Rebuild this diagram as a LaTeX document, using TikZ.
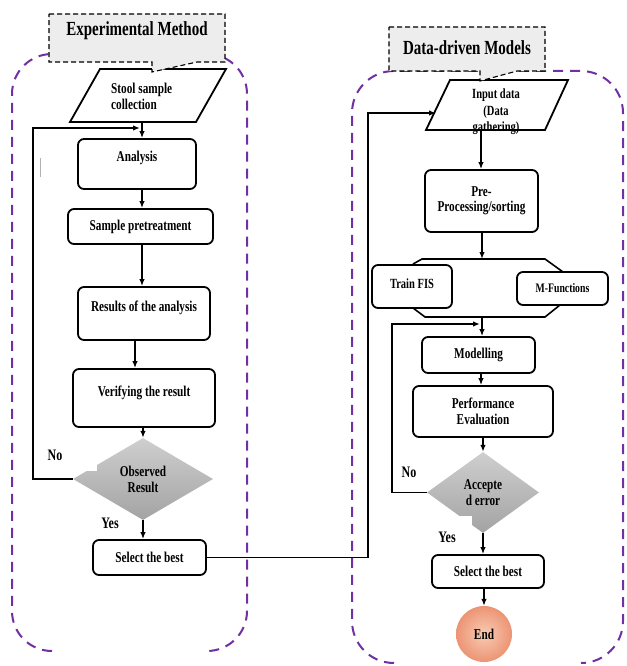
\documentclass[tikz,border=0pt]{standalone}
\usepackage{fontspec}
\setmainfont{Liberation Serif}[FakeStretch=0.75]
\usetikzlibrary{shapes.geometric,arrows.meta}
\definecolor{purp}{HTML}{7030A0}
\definecolor{callgray}{HTML}{EDEDED}
\definecolor{endin}{HTML}{F9CBB3}
\definecolor{endout}{HTML}{EC9474}
\newcommand\upby[2]{\raisebox{#1}[\height][\depth]{#2}}
\begin{document}
\begin{tikzpicture}[x=1pt,y=-1pt,
  every node/.style={font=\bfseries\fontsize{15}{16}\selectfont},
  box/.style={draw, line width=1.8pt, rounded corners=6pt, fill=white, inner sep=0pt, align=center},
  para/.style={draw, line width=1.8pt, fill=white},
  arr/.style={line width=1.5pt, -{Latex[length=7pt,width=5.5pt]}},
  ln/.style={line width=1.6pt},
  cont/.style={draw=purp, line width=2pt, dash pattern=on 10pt off 7pt},
  call/.style={draw=black, fill=callgray, line width=1.1pt, dash pattern=on 5pt off 3pt},
  dia/.style={diamond, inner sep=0pt, top color=gray!38, bottom color=gray!72, align=center},
  lbl/.style={inner sep=0pt, font=\bfseries\fontsize{16}{16}\selectfont},
  title/.style={inner sep=0pt, font=\bfseries\fontsize{20}{20}\selectfont}
]
\useasboundingbox (0,0) rectangle (626,666);
\fill[white] (0,0) rectangle (626,666);

% containers (open at the bottom)
\draw[cont, rounded corners=40pt] (52,651) -- (12,651) -- (12,54) -- (247,54) -- (247,651) -- (207,651);
\draw[cont, rounded corners=42pt] (394,663) -- (352,663) -- (352,71) -- (623,71) -- (623,663) -- (581,663);

% stray mark
\draw[gray!60, line width=0.8pt] (40,158) -- (40,177);

% ---------------- left column ----------------
\coordinate (axA) at (142,0);
\coordinate (axB) at (135,0);
\draw[para] (100,69) -- (226,69) -- (196,122) -- (70,122) -- cycle;
\node[inner sep=0pt, align=left, anchor=west] (stool) at (111,96) {Stool sample\\collection};
\coordinate (stoolB) at (142,122);

\node[box, minimum width=118pt, minimum height=50pt] (ana) at (137,164) {\upby{6pt}{Analysis}};
\node[box, minimum width=145pt, minimum height=35pt] (pre) at (140.5,226.5) {Sample pretreatment};
\node[box, minimum width=132pt, minimum height=53pt] (res) at (144,313.5) {\upby{6pt}{Results of the analysis}};
\node[box, minimum width=142pt, minimum height=58pt] (ver) at (144,398) {\upby{5pt}{Verifying the result}};
\node[dia, minimum width=140pt, minimum height=82pt] (obs) at (143,479) {Observed\\Result};
\node[box, minimum width=113pt, minimum height=35pt] (sel1) at (149.5,557.5) {Select the best};

\draw[arr] (stoolB) -- (ana.north -| stoolB);
\draw[arr] (ana.south -| axA) -- (pre.north -| axA);
\draw[arr] (pre.south -| axA) -- (res.north -| axA);
\draw[arr] (res.south -| axB) -- (ver.north -| axB);
\draw[arr] (ver.south -| obs.north) -- (obs.north);
\draw[arr] (obs.south) -- (obs.south |- sel1.north);

\coordinate (fbC) at (33,479);
\coordinate (fbT) at (140,128);
\draw[arr] (obs.west) -- (fbC) |- (fbT);

\fill[white] (84,459) rectangle (97,471);
\node[lbl] (no1) at (55,455) {No};
\node[lbl] (yes1) at (110,523) {Yes};

% ---------------- right column ----------------
\coordinate (axC) at (481,0);
\draw[para] (450,80) -- (568,80) -- (545,130) -- (426,130) -- cycle;
\node[inner sep=0pt, align=center, font=\bfseries\fontsize{14}{16.5}\selectfont] (inp) at (496,112) {Input data\\(Data\\gathering)};
\coordinate (inpB) at (481,130);
\coordinate (inpIn) at (436,113);

\node[box, minimum width=113pt, minimum height=62pt, font=\bfseries\fontsize{15}{15}\selectfont] (pp) at (481.5,201) {Pre-\\Processing/sorting};
\draw[arr] (inpB) -- (pp.north -| inpB);

\coordinate (octT) at (482,259);
\coordinate (octB) at (482,317);
\draw[arr] (pp.south -| octT) -- (octT);
\draw[ln] (413,264) -- (422,259) -- (545,259) -- (563,272);
\draw[ln] (413,308) -- (425,317) -- (545,317) -- (560,305);
\node[box, minimum width=80pt, minimum height=43pt, font=\bfseries\fontsize{14}{16}\selectfont] (fis) at (412,286.5) {\upby{3pt}{Train FIS}};
\node[box, minimum width=91pt, minimum height=33pt, font=\bfseries\fontsize{13}{16}\selectfont] (mf) at (562.5,288.5) {M-Functions};

\node[box, minimum width=113pt, minimum height=36pt] (mod) at (478.5,355) {Modelling};
\node[box, minimum width=140pt, minimum height=51pt] (perf) at (483,411.5) {Performance\\Evaluation};
\node[dia, minimum width=112pt, minimum height=81pt] (acc) at (483,492.5) {Accepte\\d error};
\node[box, minimum width=112pt, minimum height=33pt] (sel2) at (488,571.5) {Select the best};
\node[circle, minimum size=56pt, inner sep=0pt, inner color=endin, outer color=endout] (end) at (484,634) {End};

\draw[arr] (octB) -- (mod.north -| octB);
\draw[arr] (mod.south -| axC) -- (perf.north -| axC);
\draw[arr] (perf.south -| acc.north) -- (acc.north);
\draw[arr] (acc.south) -- (acc.south |- sel2.north);
\draw[arr] (sel2.south -| end.north) -- (end.north);

\coordinate (fb2C) at (392,492.5);
\coordinate (fb2T) at (480,324);
\draw[arr] (acc.west) -- (fb2C) |- (fb2T);

\fill[white] (430,516) rectangle (472,546);
\node[lbl] (no2) at (409,472) {No};
\node[lbl] (yes2) at (447,537) {Yes};

% link between the two columns
\coordinate (j1) at (368,557.5);
\coordinate (j2) at (368,113);
\draw[arr] (sel1.east) -- (j1) -- (j2) -- (inpIn);

% callouts
\draw[call] (49,14) -- (225,14) -- (225,62) -- (197,62) -- (152,72) -- (152,62) -- (49,62) -- cycle;
\node[title] (t1) at (137,31) {Experimental Method};
\draw[call] (389,27) -- (545,27) -- (545,71) -- (517,71) -- (480,81) -- (480,71) -- (389,71) -- cycle;
\node[title] (t2) at (467,48) {Data-driven Models};
\end{tikzpicture}
\end{document}
